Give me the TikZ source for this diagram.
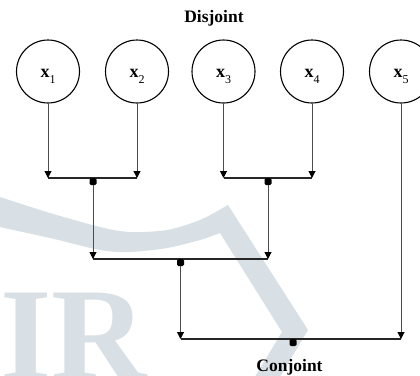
\documentclass[tikz,border=0pt]{standalone}
\usepackage{fontspec}
\setmainfont{Liberation Serif}
\usetikzlibrary{arrows.meta}
\definecolor{wm}{RGB}{217,224,229}
\begin{document}
\begin{tikzpicture}[x=1pt,y=-1pt,
  vc/.style={circle,draw=black,line width=1.1pt,minimum size=63pt,inner sep=0pt,
             text height=11pt,text depth=0pt,font=\fontsize{18}{18}\selectfont},
  feed/.style={draw=black!70,line width=1pt,-{Triangle[width=7pt,length=7pt,color=black]}},
  bar/.style={draw=black!85,line width=1.3pt},
  dotnode/.style={rectangle,fill=black,rounded corners=1.5pt,minimum width=7pt,
                  minimum height=7pt,inner sep=0pt,anchor=north},
  ttl/.style={font=\bfseries\fontsize{17.5}{17.5}\selectfont,anchor=base,inner sep=0pt}]
\useasboundingbox (0,0) rectangle (420,375);
\clip (0,0) rectangle (420,375);
\fill[white] (0,0) rectangle (420,375);
% watermark
\fill[wm] plot[smooth] coordinates {(-5,195) (0,197) (50,213) (100,227) (130,232) (167,230) (200,220) (228,205)}
  -- (308,330) -- (275,385) -- (250,385) -- (282,332) -- (220,233)
  -- plot[smooth] coordinates {(220,233) (200,240) (167,248) (130,252) (100,250) (50,238) (0,227) (-5,225)} -- cycle;
\node[anchor=base west,inner sep=0pt,text=wm,font=\bfseries\fontsize{132}{132}\selectfont] (wmk) at (0,379) {IR};
% title
\node[ttl] (dis) at (214,22) {Disjoint};
% circles
\foreach \i/\x in {1/48,2/137,3/223.5,4/312,5/401}
  \node[vc] (x\i) at (\x,71.5) {\textbf{x}\raisebox{-6.5pt}{\fontsize{12}{12}\selectfont \i}};
% junction points
\coordinate (a1) at (48,178);
\coordinate (a2) at (137,178);
\coordinate (a3) at (223.5,178);
\coordinate (a4) at (312,178);
\coordinate (b1) at (93,259);
\coordinate (b2) at (268,259);
\coordinate (c1) at (180.5,339);
\coordinate (c2) at (401,339);
% bars
\draw[bar] (a1) -- (a2);
\draw[bar] (a3) -- (a4);
\draw[bar] (b1) -- (b2);
\draw[bar] (c1) -- (c2);
% dots
\node[dotnode] (d1) at (93,178) {};
\node[dotnode] (d2) at (268,178) {};
\node[dotnode] (d3) at (180.5,259) {};
\node[dotnode] (d4) at (293,339) {};
% arrows
\draw[feed] (x1) -- (a1);
\draw[feed] (x2) -- (a2);
\draw[feed] (x3) -- (a3);
\draw[feed] (x4) -- (a4);
\draw[feed] (x5) -- (c2);
\draw[feed] (d1) -- (b1);
\draw[feed] (d2) -- (b2);
\draw[feed] (d3) -- (c1);
% bottom label
\node[ttl] (con) at (289.5,371) {Conjoint};
\end{tikzpicture}
\end{document}
